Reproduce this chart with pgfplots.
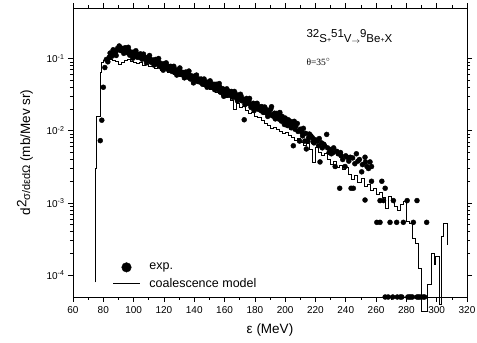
\documentclass[border=0pt]{standalone}
\usepackage{fontspec}
\setmainfont{Liberation Sans}
\newfontfamily\seriffont{Liberation Serif}
\usepackage{pgfplots}
\usepackage{pgfplotstable}
\pgfplotsset{compat=1.18}

\pgfplotstableread{
x y
78 0.0073
79 0.014
80 0.040
81 0.075
82 0.097
83 0.090
84 0.105
85 0.118
86 0.112
87 0.125
88 0.120
89 0.130
90 0.135
91 0.142
92 0.130
93 0.138
94 0.125
95 0.132
96 0.120
97 0.128
98 0.115
99 0.122
100 0.112
101 0.118
102 0.108
103 0.114
104 0.104
105 0.110
106 0.100
107 0.106
108 0.097
109 0.102
110 0.094
111 0.098
112 0.090
113 0.095
114 0.086
115 0.091
116 0.083
117 0.088
118 0.080
119 0.084
120 0.077
121 0.081
122 0.074
123 0.078
124 0.070
125 0.075
126 0.068
127 0.072
128 0.065
129 0.069
130 0.062
131 0.066
132 0.060
133 0.064
134 0.057
135 0.061
136 0.055
137 0.059
138 0.053
139 0.057
140 0.051
141 0.054
142 0.049
143 0.052
144 0.047
145 0.051
146 0.045
147 0.048
148 0.044
149 0.047
150 0.042
151 0.045
152 0.040
153 0.044
154 0.039
155 0.041
156 0.037
157 0.040
158 0.035
159 0.038
160 0.034
161 0.037
162 0.032
163 0.035
164 0.031
165 0.034
166 0.030
167 0.033
168 0.029
169 0.031
170 0.027
171 0.030
172 0.026
173 0.0142
174 0.027
175 0.024
176 0.026
177 0.023
178 0.0215
179 0.024
180 0.021
181 0.023
182 0.020
183 0.0215
184 0.019
185 0.021
186 0.018
187 0.020
188 0.0175
189 0.019
190 0.0168
191 0.0215
192 0.016
193 0.0175
194 0.015
195 0.0165
196 0.0145
197 0.016
198 0.0158
199 0.0138
200 0.0150
84.5 0.119
85.5 0.107
86.5 0.132
87.5 0.118
88.5 0.110
89.5 0.139
90.5 0.149
91.5 0.129
92.5 0.137
93.5 0.118
94.5 0.141
95.5 0.123
96.5 0.143
97.5 0.111
98.5 0.118
99.5 0.101
100.5 0.123
101.5 0.128
102.5 0.104
103.5 0.112
104.5 0.116
105.5 0.098
106.5 0.115
107.5 0.098
108.5 0.087
109.5 0.103
110.5 0.110
111.5 0.089
112.5 0.094
113.5 0.081
114.5 0.097
115.5 0.085
116.5 0.100
117.5 0.077
118.5 0.082
119.5 0.069
120.5 0.085
121.5 0.087
122.5 0.071
123.5 0.076
124.5 0.078
125.5 0.066
126.5 0.078
127.5 0.066
128.5 0.059
129.5 0.068
130.5 0.074
131.5 0.060
132.5 0.063
133.5 0.054
134.5 0.065
135.5 0.057
136.5 0.067
137.5 0.052
138.5 0.055
139.5 0.046
140.5 0.057
141.5 0.059
142.5 0.048
143.5 0.050
144.5 0.052
145.5 0.044
146.5 0.052
147.5 0.044
148.5 0.040
149.5 0.046
150.5 0.049
151.5 0.040
152.5 0.042
153.5 0.037
154.5 0.044
155.5 0.038
156.5 0.045
157.5 0.034
158.5 0.036
159.5 0.030
160.5 0.037
161.5 0.038
162.5 0.031
163.5 0.033
164.5 0.035
165.5 0.029
166.5 0.035
167.5 0.029
168.5 0.026
169.5 0.029
170.5 0.032
171.5 0.026
172.5 0.027
173.5 0.023
174.5 0.028
175.5 0.0245
176.5 0.028
177.5 0.021
178.5 0.023
179.5 0.019
180.5 0.0235
181.5 0.024
182.5 0.020
183.5 0.0206
184.5 0.0216
185.5 0.018
186.5 0.0213
187.5 0.018
188.5 0.0158
189.5 0.0187
190.5 0.020
191.5 0.0162
192.5 0.0169
193.5 0.0146
194.5 0.0174
195.5 0.0152
196.5 0.0179
197.5 0.0136
198.5 0.0145
199.5 0.0122
201 0.0130
201.5 0.0118
202 0.0142
203 0.0125
203.5 0.0135
204 0.0110
205 0.0123
205.4 0.0062
206 0.0135
206.5 0.0105
207 0.0115
208 0.0126
208.5 0.0098
209.5 0.0072
210 0.0105
211 0.0095
211.5 0.0085
212 0.0108
213 0.0072
213.5 0.0092
214 0.0056
215 0.0072
215.5 0.0080
216 0.0090
217 0.0085
218 0.0080
218.5 0.0070
219 0.0068
220 0.0075
221 0.0072
222 0.0062
222.5 0.0078
223 0.0037
224 0.0068
224.5 0.0058
225.5 0.0065
226 0.0062
227.4 0.0089
228 0.0058
229 0.0050
230 0.0055
230.5 0.0048
231.6 0.0050
232 0.0058
233 0.0032
234 0.0052
235 0.0048
236 0.0016
236.5 0.0050
237 0.0045
238 0.0040
239.5 0.0032
240 0.0045
241 0.0043
242 0.0038
243 0.0043
243.5 0.0016
244.5 0.0042
245 0.0016
246 0.0035
247 0.0048
248 0.0038
249 0.0040
250.5 0.0027
251 0.0034
252.7 0.0043
253 0.0037
252.7 0.0011
254 0.0032
255 0.0030
256 0.0037
257 0.0032
257 0.0020
260.5 0.00054
262.6 0.00108
262.6 0.00054
263.8 0.0020
264.9 0.00108
266 0.0016
269.2 0.00054
271.4 0.00108
273.6 0.00054
278 0.00054
280.5 0.00108
284.6 0.00054
287 0.00108
293.4 0.00054
266 0.00005
268 0.00005
271 0.00005
274 0.00005
276 0.00005
277 0.00005
281 0.00005
282 0.00005
283 0.00005
284 0.00005
287 0.00005
288 0.00005
289 0.00005
291 0.00005
292 0.00005
}\expdata

\pgfplotstableread{
x y
74.5 0.00008
75.6 0.0030
77.8 0.016
79 0.064
80 0.088
82 0.095
84 0.092
86 0.098
88 0.094
90 0.090
92 0.083
94 0.087
96 0.093
98 0.097
100 0.091
102 0.088
104 0.085
106 0.087
108 0.080
110 0.082
112 0.077
114 0.079
116 0.073
118 0.075
120 0.069
122 0.071
124 0.065
126 0.067
128 0.061
130 0.063
132 0.057
134 0.059
136 0.053
138 0.055
140 0.049
142 0.051
144 0.045
146 0.047
148 0.041
150 0.043
152 0.037
154 0.039
156 0.034
158 0.033
160 0.031
162 0.029
164 0.030
166 0.026
168 0.020
170 0.024
172 0.021
174 0.022
176 0.019
178 0.0175
180 0.018
182 0.016
184 0.0155
186 0.014
188 0.0125
190 0.0118
192 0.0108
194 0.0112
196 0.0105
198 0.0098
200 0.0092
202 0.0095
204 0.0085
206 0.0080
208 0.0074
210 0.0078
212 0.0068
214 0.0062
216 0.0066
218 0.0056
220 0.0037
222 0.0058
224 0.0050
226 0.0046
228 0.0049
230 0.0040
232 0.0034
234 0.0038
236 0.0031
238 0.0033
240 0.0029
242 0.0031
244 0.0025
246 0.0021
248 0.0024
250 0.0019
252 0.0022
254 0.0017
256 0.0018
258 0.0015
260 0.0016
262 0.0013
264 0.0014
266 0.0012
268 0.00085
270 0.00125
272 0.0011
274 0.0009
276 0.0008
278 0.00095
280 0.00105
282 0.00056
284 0.00052
286 0.00032
288 0.00028
290 0.000125
292 0.000032
294 0.000032
296.7 0.000074
298.5 0.00020
299.4 0.00014
301.6 0.00018
303.3 0.000040
304.4 0.00035
307.3 0.00052
307.3 0.00026
}\modeldata

\begin{document}
\begin{tikzpicture}
\begin{axis}[
  scale only axis, width=394pt, height=289pt,
  xmin=60, xmax=320, ymode=log, ymin=5e-5, ymax=0.5,
  clip=false,
  xtick={60,80,...,320}, minor x tick num=1,
  ytick={1e-4,1e-3,1e-2,1e-1},
  yticklabels={10\textsuperscript{-4},10\textsuperscript{-3},10\textsuperscript{-2},10\textsuperscript{-1}},
  tick align=outside, major tick length=5pt, minor tick length=3pt,
  every tick/.style={black, line width=0.6pt},
  axis line style={line width=0.8pt},
  /pgf/number format/assume math mode=true,
  tick label style={font=\fontsize{10}{11}\selectfont},
  xticklabel style={yshift=-1pt},
  xlabel={ε (MeV)},
  ylabel={d\raisebox{0.55ex}{2}{\fontsize{11}{12}\selectfont σ/dεdΩ} (mb/Mev sr)},
  label style={font=\fontsize{13.5}{15}\selectfont},
  xlabel style={at={(axis description cs:0.5,-0.114)}, anchor=center},
  ylabel style={at={(axis description cs:-0.122,0.5)}, anchor=center},
  legend style={draw=none, fill=none, at={(axis description cs:0.1,0.02)}, anchor=south west,
    font=\fontsize{12.5}{14}\selectfont, row sep=3pt, column sep=7pt, inner sep=0pt},
  legend cell align=left,
]
\addplot[only marks, mark=*, mark size=2.5pt, black,
  legend image code/.code={\fill[black] (13.5pt,0pt) circle (4.8pt);}]
  table[x=x,y=y] {\expdata};
\addlegendentry{exp.}
\addplot[const plot mark right, black, line width=0.8pt,
  legend image code/.code={\draw[black,line width=0.8pt] (0pt,0pt) -- (27pt,0pt);}]
  table[x=x,y=y] {\modeldata};
\addlegendentry{coalescence model}
\node[anchor=base west, inner sep=0pt, font=\fontsize{11.5}{12}\selectfont] at (axis cs:214,0.166)
  {\raisebox{5pt}{32}S{\scriptsize +}\raisebox{5pt}{51}V\raisebox{-0.5pt}{\footnotesize$\rightarrow$}\raisebox{5pt}{9}Be{\scriptsize +}X};
\node[anchor=base west, inner sep=0pt, font=\fontsize{9.5}{10}\selectfont\seriffont] at (axis cs:214,0.081)
  {θ=35$^\circ$};
\end{axis}
\pgfresetboundingbox
\path ([shift={(-73pt,-46pt)}]current axis.south west) rectangle ([shift={(10pt,8pt)}]current axis.north east);
\end{tikzpicture}
\end{document}
